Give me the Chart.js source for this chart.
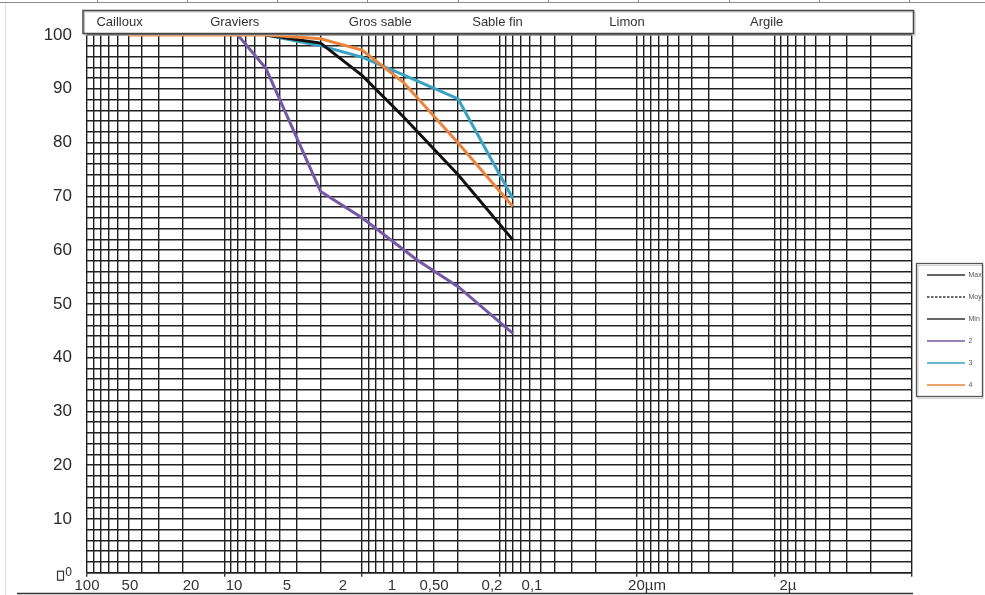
<!DOCTYPE html>
<html>
<head>
<meta charset="utf-8">
<script src="https://cdn.jsdelivr.net/npm/chart.js@4/dist/chart.umd.min.js"></script>
<style>
html,body{margin:0;padding:0;background:#fff;}
canvas{display:block;}
</style>
</head>
<body>
<canvas id="c" width="985" height="595"></canvas>
<script>
// ---------- DATA ----------
const sieveSizesMm = [50, 20, 10, 8, 5, 2, 1, 0.5, 0.4, 0.2, 0.08];
const passMax = [null, null, null, null, 100, 98.5, 92.5, 84.8, null, 74.0, 61.9];
const passMoy = [];
const passMin = [];
const pass2   = [null, null, null, 100, 93.8, 70.9, 66.0, null, 58.2, 53.2, 44.5];
const pass3   = [null, null, null, null, 100, 98.0, 95.9, 92.6, null, 88.1, 69.6];
const pass4   = [100, 100, 100, null, 100, 99.3, 97.2, 91.2, null, 79.9, 68.1];
const seriesNames = ['Max', 'Moy', 'Min', '2', '3', '4'];
const xTickLabels = ['100', '50', '20', '10', '5', '2', '1', '0,50', '0,2', '0,1', '20µm', '2µ'];
const zoneNames = ['Cailloux', 'Graviers', 'Gros sable', 'Sable fin', 'Limon', 'Argile'];

// ---------- LAYOUT (where the reference places its printed texts, in mm on the axis) ----------
const xLabelAnchorMm = [100, 48.7, 17.5, 8.53, 3.51, 1.374, 0.605, 0.2995, 0.1134, 0.058, 0.00846, 0.000798];
const zoneAnchorMm = [58.0, 8.43, 0.736, 0.1034, 0.01183, 0.00114];

const FONT = '"Liberation Sans Narrow", "Arial Narrow", "Liberation Sans", Arial, sans-serif';
Chart.defaults.font.family = FONT;

function toPoints(arr) {
  const pts = [];
  sieveSizesMm.forEach((x, i) => { if (arr[i] != null) pts.push({x: x, y: arr[i]}); });
  return pts;
}

function isDecade(v) {
  const l = Math.log10(v);
  return Math.abs(l - Math.round(l)) < 1e-9;
}

const decor = {
  id: 'decor',
  beforeDraw(chart) {
    const ctx = chart.ctx;
    ctx.save();
    ctx.fillStyle = '#ffffff';
    ctx.fillRect(0, 0, chart.width, chart.height);
    ctx.restore();
  },
  afterDraw(chart) {
    const ctx = chart.ctx;
    const ca = chart.chartArea;
    const xs = chart.scales.x, ys = chart.scales.y;
    ctx.save();
    // spreadsheet frame lines
    ctx.strokeStyle = '#8a8a8a';
    ctx.lineWidth = 1;
    ctx.beginPath();
    ctx.moveTo(0, 2.5); ctx.lineTo(chart.width, 2.5);
    for (let vx = 96.5; vx < chart.width; vx += 90.3) { ctx.moveTo(Math.round(vx) + 0.5, 0); ctx.lineTo(Math.round(vx) + 0.5, 2.5); }
    ctx.stroke();
    ctx.strokeStyle = '#e2e2e2';
    ctx.beginPath(); ctx.moveTo(5.5, 3); ctx.lineTo(5.5, chart.height); ctx.stroke();
    ctx.strokeStyle = '#333';
    ctx.lineWidth = 1.5;
    ctx.beginPath(); ctx.moveTo(17, 593.5); ctx.lineTo(ca.right + 1, 593.5); ctx.stroke();

    // header box with soil classes
    const hl = ca.left - 4, hr = ca.right + 1.5, ht = 10.5, hb = 33.5;
    ctx.fillStyle = '#ffffff';
    ctx.fillRect(hl, ht, hr - hl, hb - ht);
    ctx.strokeStyle = '#bdbdbd';
    ctx.lineWidth = 1;
    ctx.strokeRect(hl + 1.5, ht + 1.5, hr - hl, hb - ht);
    ctx.strokeStyle = '#444';
    ctx.lineWidth = 1.5;
    ctx.strokeRect(hl, ht, hr - hl, hb - ht);
    ctx.fillStyle = '#333';
    ctx.font = '13px ' + FONT;
    ctx.textAlign = 'center';
    ctx.textBaseline = 'middle';
    zoneNames.forEach((n, i) => ctx.fillText(n, xs.getPixelForValue(zoneAnchorMm[i]), (ht + hb) / 2 + 0.5));

    // small box glyph beside the 0 label
    const y0 = ys.getPixelForValue(0);
    ctx.strokeStyle = '#333';
    ctx.lineWidth = 1.2;
    ctx.strokeRect(ys.right - 29.5, y0 - 1.5, 6, 9);

    // legend frame
    const lg = chart.legend;
    if (lg && lg.legendHitBoxes && lg.legendHitBoxes.length) {
      const h = lg.legendHitBoxes;
      const top = h[0].top - 8, bottom = h[h.length - 1].top + h[h.length - 1].height + 8;
      ctx.strokeStyle = '#d0d0d0';
      ctx.lineWidth = 1;
      ctx.strokeRect(lg.left + 6, top + 2, lg.right - lg.left - 8, bottom - top);
      ctx.strokeStyle = '#555';
      ctx.lineWidth = 1.3;
      ctx.strokeRect(lg.left + 4.5, top, lg.right - lg.left - 7, bottom - top);
    }
    ctx.restore();
  }
};

const colors = ['#111111', '#111111', '#111111', '#7659a6', '#3aa2c2', '#e9843a'];
const seriesData = [passMax, passMoy, passMin, pass2, pass3, pass4];
const drawOrder = [1, 1, 1, 3, 2, 0];

const datasets = seriesNames.map((name, i) => ({
  label: name,
  data: toPoints(seriesData[i]),
  borderColor: colors[i],
  backgroundColor: colors[i],
  borderWidth: 3,
  borderDash: name === 'Moy' ? [3, 2] : [],
  pointRadius: 0,
  pointHoverRadius: 0,
  tension: 0,
  fill: false,
  spanGaps: true,
  order: drawOrder[i]
}));

new Chart(document.getElementById('c'), {
  type: 'line',
  data: { datasets },
  plugins: [decor],
  options: {
    responsive: false,
    animation: false,
    devicePixelRatio: 1,
    layout: { padding: { top: 35, left: 0, right: 0, bottom: 0 } },
    plugins: {
      tooltip: { enabled: false },
      legend: {
        position: 'right',
        align: 'center',
        maxWidth: 73,
        title: { display: true, text: ' ', padding: { top: 9, bottom: 9 }, font: { size: 10 } },
        labels: {
          usePointStyle: true,
          pointStyle: 'line',
          pointStyleWidth: 38,
          boxWidth: 38,
          boxHeight: 7,
          padding: 15,
          color: '#555',
          font: { size: 7, family: FONT },
          sort: (a, b) => a.datasetIndex - b.datasetIndex,
          generateLabels(chart) {
            const items = Chart.defaults.plugins.legend.labels.generateLabels(chart);
            items.forEach(it => {
              const ds = chart.data.datasets[it.datasetIndex];
              it.pointStyle = 'line';
              it.lineWidth = 1.3;
              it.strokeStyle = it.datasetIndex < 3 ? '#333' : ds.borderColor;
              it.fillStyle = ds.borderColor;
              it.lineDash = ds.borderDash && ds.borderDash.length ? [2.5, 1.5] : [];
            });
            return items;
          }
        }
      }
    },
    scales: {
      x: {
        type: 'logarithmic',
        reverse: true,
        min: 0.0001,
        max: 100,
        afterBuildTicks(scale) {
          const ticks = [];
          for (let e = -4; e <= 2; e++) {
            for (let k = 1; k <= 9; k++) {
              const v = +(k * Math.pow(10, e)).toPrecision(6);
              if (v > 100) break;
              ticks.push({ value: v, grid: true, txt: '' });
            }
          }
          xLabelAnchorMm.forEach((v, i) => {
            const hit = ticks.find(t => Math.abs(t.value - v) / v < 1e-6);
            if (hit) hit.txt = xTickLabels[i];
            else ticks.push({ value: v, grid: false, txt: xTickLabels[i] });
          });
          ticks.sort((a, b) => a.value - b.value);
          scale.ticks = ticks;
        },
        afterFit(scale) { scale.height = 22.3; },
        ticks: {
          autoSkip: false,
          maxRotation: 0,
          minRotation: 0,
          padding: 0,
          color: '#333',
          font: { size: 15, family: FONT },
          callback(v, i, ticks) { return ticks[i].txt; }
        },
        grid: {
          drawTicks: true,
          tickLength: 4,
          lineWidth: 1.4,
          color: ctx => (ctx.tick && ctx.tick.grid === false) ? 'rgba(0,0,0,0)' : '#1e1e1e',
          tickColor: ctx => (ctx.tick && ctx.tick.grid && isDecade(ctx.tick.value)) ? '#333' : 'rgba(0,0,0,0)',
          tickWidth: 1.4
        },
        border: { display: true, color: '#1e1e1e', width: 1.5 }
      },
      y: {
        type: 'linear',
        min: 0,
        max: 100,
        afterFit(scale) { scale.width = 87; },
        ticks: {
          stepSize: 2,
          autoSkip: false,
          padding: 15,
          color: '#2a2a2a',
          font: ctx => (ctx.tick && ctx.tick.value === 0) ? { size: 12, family: FONT } : { size: 17, family: FONT },
          callback(v) { return v % 10 === 0 ? String(v) : ''; }
        },
        grid: {
          drawTicks: false,
          lineWidth: 1.5,
          color: '#222'
        },
        border: { display: false }
      }
    }
  }
});
</script>
</body>
</html>
